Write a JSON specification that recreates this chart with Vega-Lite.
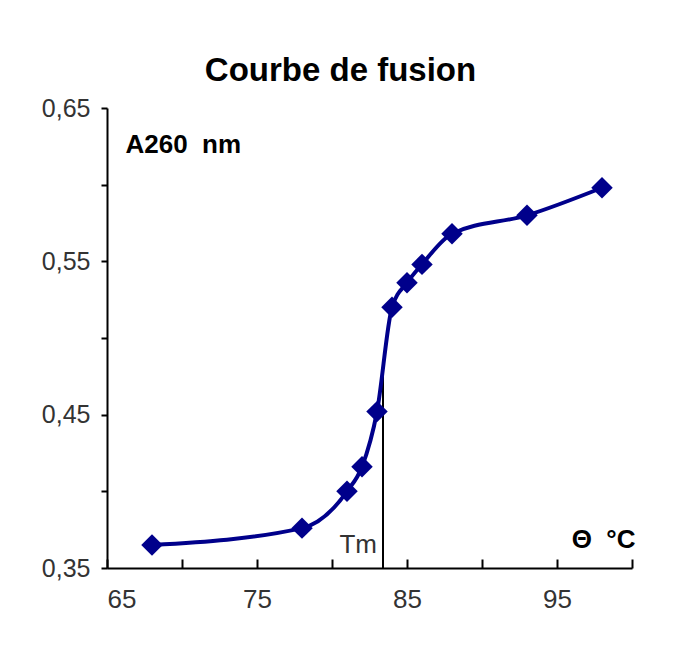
{
  "$schema": "https://vega.github.io/schema/vega-lite/v6.json",
  "width": 525,
  "height": 460,
  "autosize": "none",
  "padding": {"left": 107, "top": 108, "right": 44, "bottom": 84},
  "background": "white",
  "config": {
    "view": {"stroke": null},
    "font": "Liberation Sans",
    "locale": {"number": {"decimal": ",", "thousands": " ", "grouping": [3], "currency": ["", " €"]}}
  },
  "title": {
    "text": "Courbe de fusion",
    "fontSize": 33,
    "fontWeight": "bold",
    "font": "Liberation Sans",
    "color": "black",
    "anchor": "middle",
    "dx": -29,
    "offset": 8
  },
  "datasets": {
    "melt": [
      {"T": 68, "A": 0.365},
      {"T": 78, "A": 0.376},
      {"T": 81, "A": 0.400},
      {"T": 82, "A": 0.416},
      {"T": 83, "A": 0.452},
      {"T": 84, "A": 0.520},
      {"T": 85, "A": 0.536},
      {"T": 86, "A": 0.548},
      {"T": 88, "A": 0.568},
      {"T": 93, "A": 0.580},
      {"T": 98, "A": 0.598}
    ],
    "tm": [{"Tm": 83.4, "label": "Tm"}]
  },
  "layer": [
    {
      "data": {"name": "tm"},
      "mark": {"type": "rule", "color": "black", "strokeWidth": 2},
      "encoding": {
        "x": {"field": "Tm", "type": "quantitative"},
        "y": {"datum": 0.35, "type": "quantitative"},
        "y2": {"datum": 0.48}
      }
    },
    {
      "data": {"name": "tm"},
      "mark": {"type": "text", "align": "right", "baseline": "alphabetic", "dx": -6, "fontSize": 26, "color": "#333333", "font": "Liberation Sans"},
      "encoding": {
        "x": {"field": "Tm", "type": "quantitative"},
        "y": {"datum": 0.3598, "type": "quantitative"},
        "text": {"field": "label"}
      }
    },
    {
      "data": {"name": "melt"},
      "mark": {"type": "line", "interpolate": "monotone", "color": "#00008B", "strokeWidth": 4},
      "encoding": {
        "x": {
          "field": "T", "type": "quantitative",
          "scale": {"domain": [65, 100], "nice": false, "zero": false},
          "axis": {
            "values": [65, 70, 75, 80, 85, 90, 95, 100],
            "labelExpr": "datum.value % 10 == 5 ? datum.label : ''",
            "grid": false,
            "domainColor": "black", "domainWidth": 2,
            "tickColor": "black", "tickWidth": 2, "tickSize": -9,
            "labelFontSize": 26, "labelColor": "#333333", "labelPadding": 27,
            "labelFont": "Liberation Sans",
            "title": "Θ\u00a0\u00a0°C",
            "titleFontSize": 26, "titleFontWeight": "bold", "titleColor": "black",
            "titleFont": "Liberation Sans",
            "titleAlign": "right", "titleBaseline": "alphabetic",
            "titleX": 528, "titleY": -21
          }
        },
        "y": {
          "field": "A", "type": "quantitative",
          "scale": {"domain": [0.35, 0.65], "nice": false, "zero": false},
          "axis": {
            "values": [0.35, 0.4, 0.45, 0.5, 0.55, 0.6, 0.65],
            "format": ".2f",
            "labelExpr": "round(datum.value * 100) % 10 == 5 ? datum.label : ''",
            "grid": false,
            "domainColor": "black", "domainWidth": 2,
            "tickColor": "black", "tickWidth": 2, "tickSize": 6,
            "labelFontSize": 25, "labelColor": "#333333", "labelPadding": 11,
            "labelFont": "Liberation Sans",
            "title": "A260\u00a0\u00a0nm",
            "titleAngle": 0,
            "titleFontSize": 26, "titleFontWeight": "bold", "titleColor": "black",
            "titleFont": "Liberation Sans",
            "titleAlign": "left", "titleBaseline": "alphabetic",
            "titleX": 18, "titleY": 44
          }
        }
      }
    },
    {
      "data": {"name": "melt"},
      "mark": {"type": "point", "shape": "diamond", "filled": true, "size": 460, "color": "#00008B", "opacity": 1},
      "encoding": {
        "x": {"field": "T", "type": "quantitative"},
        "y": {"field": "A", "type": "quantitative"}
      }
    }
  ]
}
